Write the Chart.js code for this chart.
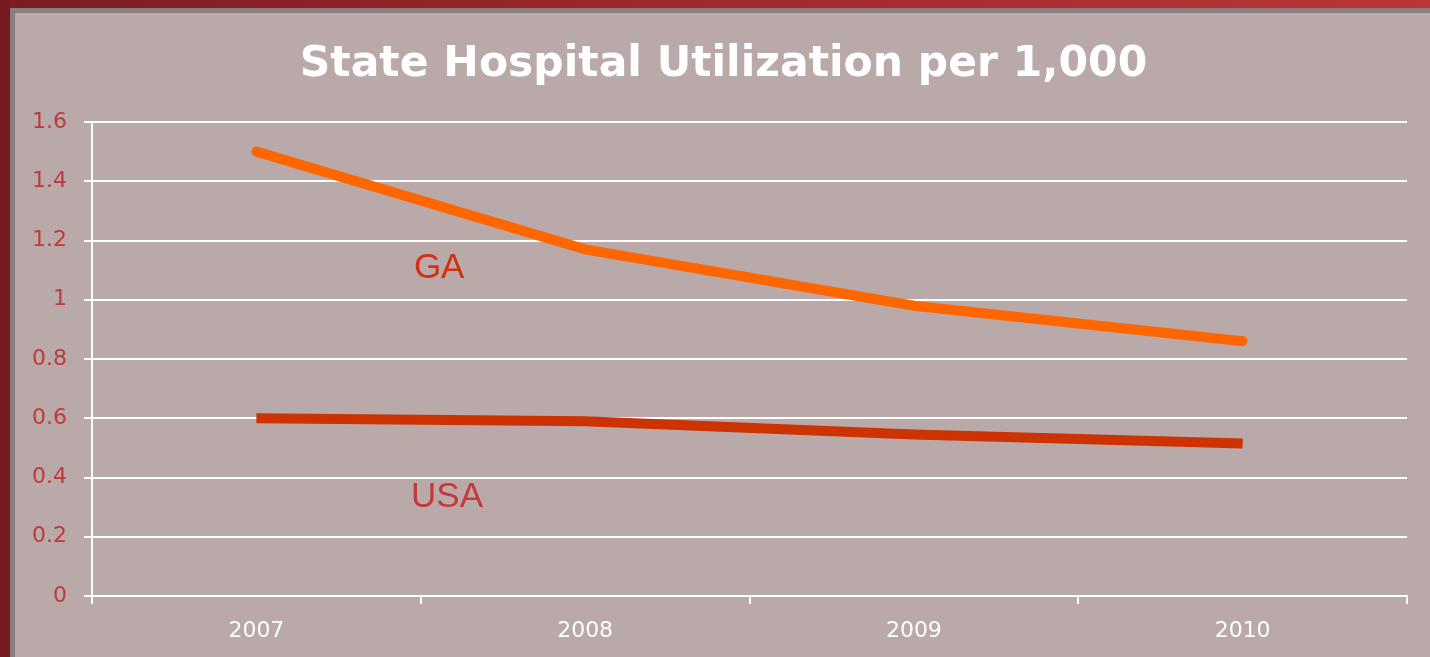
<!DOCTYPE html>
<html>
<head>
<meta charset="utf-8">
<script src="https://cdn.jsdelivr.net/npm/chart.js@4/dist/chart.umd.min.js"></script>
<style>
  html, body { margin: 0; padding: 0; }
  body {
    width: 1430px; height: 657px; overflow: hidden; position: relative;
    background: #b9aaa9;
  }
  #topbar { position: absolute; left: 0; top: 0; width: 1430px; height: 8px;
    background: linear-gradient(to right, #7a1d20, #a02a2c 50%, #bb3636); }
  #topshade { position: absolute; left: 10px; top: 8px; width: 1420px; height: 5px; background: #8b7e7e; }
  #leftbar { position: absolute; left: 0; top: 0; width: 10px; height: 657px; background: #761c1f; }
  #leftshade { position: absolute; left: 10px; top: 8px; width: 5px; height: 649px; background: #8b7e7e; }
  #chart { position: absolute; left: 0; top: 0; }
  #title { position: absolute; left: 0; top: 36px; width: 1447px; text-align: center;
    color: #fff; font: bold 42.5px 'DejaVu Sans', Tahoma, sans-serif; line-height: 52px; }
</style>
</head>
<body>
<div id="topbar"></div>
<div id="topshade"></div>
<div id="leftbar"></div>
<div id="leftshade"></div>
<canvas id="chart" width="1430" height="657"></canvas>
<div id="title">State Hospital Utilization per 1,000</div>
<script>
const years = ["2007", "2008", "2009", "2010"];
const gaValues = [1.5, 1.17, 0.98, 0.86];
const usaValues = [0.6, 0.59, 0.545, 0.515];
const yTicks = [0, 0.2, 0.4, 0.6, 0.8, 1, 1.2, 1.4, 1.6];

// series names written on the plot, positioned in data units
const seriesLabels = [
  { text: "GA", x: 0.556, y: 1.107, color: "#d4300f" },
  { text: "USA", x: 0.58, y: 0.334, color: "#c8383a" }
];

const labelPlugin = {
  id: "seriesLabels",
  afterDatasetsDraw(chart) {
    const ctx = chart.ctx;
    const xs = chart.scales.x, ys = chart.scales.y;
    ctx.save();
    ctx.font = "35px 'Liberation Sans', Arial, sans-serif";
    ctx.textAlign = "center";
    ctx.textBaseline = "middle";
    seriesLabels.forEach(l => {
      ctx.fillStyle = l.color;
      ctx.fillText(l.text, xs.getPixelForValue(l.x), ys.getPixelForValue(l.y));
    });
    ctx.restore();
  }
};

new Chart(document.getElementById("chart"), {
  type: "line",
  data: {
    labels: years,
    datasets: [
      { label: "GA", data: gaValues, borderColor: "#ff6600", borderWidth: 10,
        borderCapStyle: "round", pointRadius: 0, tension: 0, fill: false },
      { label: "USA", data: usaValues, borderColor: "#cc3300", borderWidth: 10,
        borderCapStyle: "butt", pointRadius: 0, tension: 0, fill: false }
    ]
  },
  options: {
    responsive: false,
    animation: false,
    devicePixelRatio: 1,
    layout: { padding: { left: 0, right: 23, top: 122, bottom: 0 } },
    plugins: {
      legend: { display: false },
      tooltip: { enabled: false },
      title: { display: false }
    },
    scales: {
      x: {
        offset: true,
        grid: { display: true, offset: true, drawOnChartArea: false, drawTicks: true, tickLength: 8, color: "#ffffff", lineWidth: 2 },
        border: { display: true, color: "#ffffff", width: 2 },
        ticks: { color: "#ffffff", font: { family: "'DejaVu Sans', Tahoma, sans-serif", size: 22 }, padding: 14, maxRotation: 0 },
        afterFit(scale) { scale.height = 61; }
      },
      y: {
        min: 0, max: 1.6,
        afterBuildTicks(scale) { scale.ticks = yTicks.map(v => ({ value: v })); },
        grid: { color: "#ffffff", lineWidth: 2, tickLength: 8 },
        border: { display: true, color: "#ffffff", width: 2 },
        ticks: { color: "#c0393b", font: { family: "'DejaVu Sans', Tahoma, sans-serif", size: 22 }, padding: 17,
          callback: v => String(v) },
        afterFit(scale) { scale.width = 92; }
      }
    }
  },
  plugins: [labelPlugin]
});
</script>
</body>
</html>
